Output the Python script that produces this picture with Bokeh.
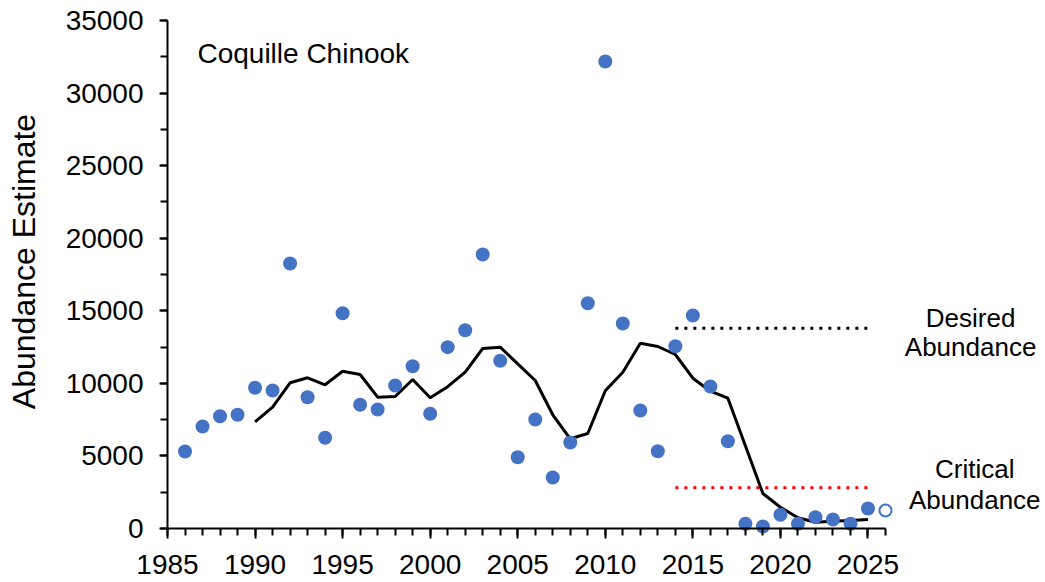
import math
from bokeh.plotting import figure
from bokeh.models import Label, SingleIntervalTicker, Range1d
from bokeh.embed import file_html
from bokeh.resources import INLINE

# ---- data ----
years = list(range(1986, 2026))
abundance = [5305, 7028, 7737, 7834, 9694, 9508, 18259, 9048, 6249, 14834,
             8523, 8199, 9853, 11182, 7902, 12493, 13663, 18879, 11555, 4913,
             7510, 3514, 5925, 15523, 32176, 14125, 8130, 5326, 12560, 14676,
             9784, 6015, 324, 138, 944, 324, 783, 620, 324, 1378]
proj_years = [2026]
proj_abundance = [1240]
avg_years = list(range(1990, 2026))
avg_abundance = [7352, 8358, 10039, 10383, 9901, 10838, 10611, 9047, 9095, 10266,
                 9005, 9770, 10769, 12402, 12492, 11348, 10197, 7834, 6180, 6545,
                 9488, 10769, 12767, 12540, 11989, 10356, 9460, 8978, 5700, 2411,
                 1468, 737, 434, 503, 551, 620]
ref_years = [2014, 2025]
desired_level = 13800
critical_level = 2800
x_bounds = (1985, 2026)
y_bounds = (0, 35000)
title_text = "Coquille Chinook"
y_label_text = "Abundance Estimate"

FONT = "Liberation Sans"
BLUE = "#4472C4"

# frame covers the whole canvas; axes are pinned inside it
p = figure(width=1045, height=582, output_backend="svg", toolbar_location=None,
           x_range=Range1d(1975.464, 2035.137), y_range=Range1d(-3720, 36378),
           min_border_left=0, min_border_right=0, min_border_top=0,
           min_border_bottom=0)
p.outline_line_color = None
p.xgrid.visible = False
p.ygrid.visible = False
p.background_fill_color = "white"
p.border_fill_color = "white"

xa = p.xaxis[0]
ya = p.yaxis[0]
xa.fixed_location = y_bounds[0]
ya.fixed_location = x_bounds[0]
xa.bounds = x_bounds
ya.bounds = y_bounds
xa.ticker = SingleIntervalTicker(interval=5, num_minor_ticks=5)
ya.ticker = SingleIntervalTicker(interval=5000, num_minor_ticks=2)
for ax in (xa, ya):
    ax.axis_line_color = "black"
    ax.axis_line_width = 2
    ax.major_tick_line_color = "black"
    ax.major_tick_line_width = 2
    ax.minor_tick_line_color = "black"
    ax.minor_tick_line_width = 2
    ax.major_tick_in = 0
    ax.minor_tick_in = 0
    ax.major_label_text_font = FONT
    ax.major_label_text_font_size = "28px"
    ax.major_label_text_color = "black"
xa.major_tick_out = 10
xa.minor_tick_out = 7
xa.major_label_standoff = 16
ya.major_tick_out = 8
ya.minor_tick_out = 7
ya.major_label_standoff = 16

# reference lines
p.line(ref_years, [desired_level] * len(ref_years), line_color="black",
       line_width=3, line_dash="3 6")
p.line(ref_years, [critical_level] * len(ref_years), line_color="#FF0000",
       line_width=3, line_dash="3 6")

# running average
p.line(avg_years, avg_abundance, line_color="black", line_width=3)

# points
p.scatter(years, abundance, size=14, fill_color=BLUE, line_color=None)
p.scatter(proj_years, proj_abundance, size=12, fill_color="white",
          line_color=BLUE, line_width=2)

# texts
p.add_layout(Label(x=1986.71, y=32727, text=title_text, text_font=FONT,
                   text_font_size="28px", text_color="black",
                   text_align="left", text_baseline="alphabetic"))
p.add_layout(Label(x=1976.78, y=18396, text=y_label_text, text_font=FONT,
                   text_font_size="32px", text_color="black", angle=math.pi / 2,
                   text_align="center", text_baseline="alphabetic"))
for txt, xx, yy in [("Desired", 2030.86, 14537), ("Abundance", 2030.86, 12471),
                    ("Critical", 2031.1, 4099), ("Abundance", 2031.1, 1964)]:
    p.add_layout(Label(x=xx, y=yy, text=txt, text_font=FONT,
                       text_font_size="26px", text_color="black",
                       text_align="center", text_baseline="alphabetic"))

open("out.html", "w").write(file_html(p, INLINE))
